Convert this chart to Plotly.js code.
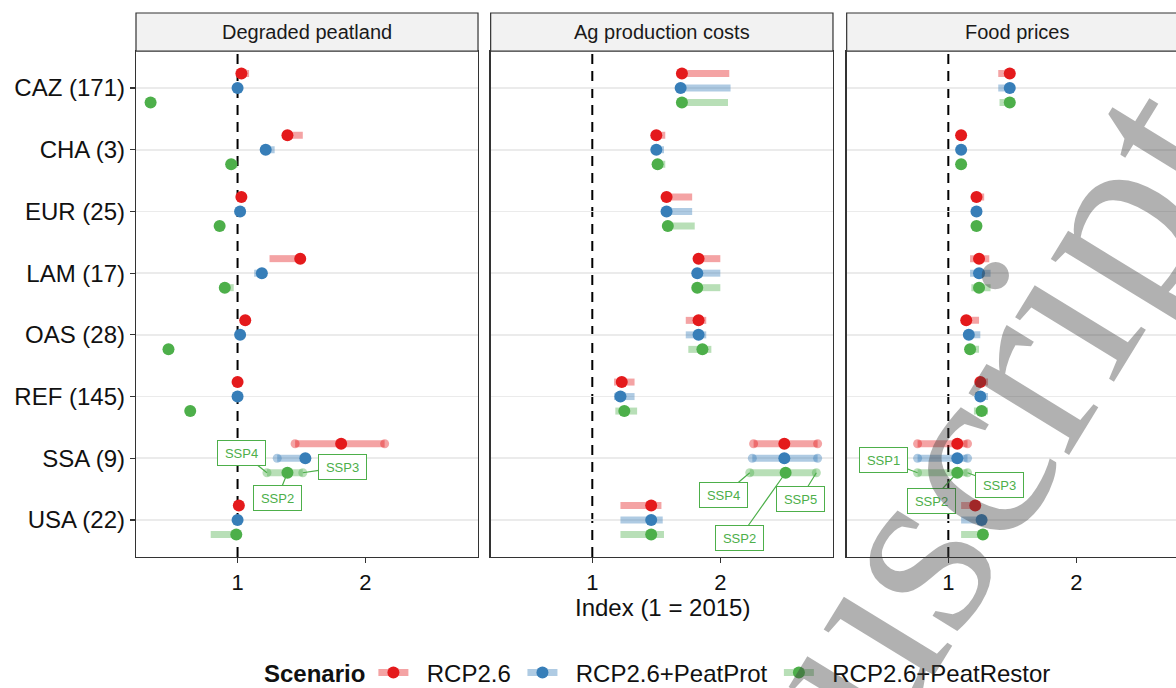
<!DOCTYPE html>
<html><head><meta charset="utf-8">
<script src="https://cdn.plot.ly/plotly-3.0.1.min.js"></script>
<style>html,body{margin:0;padding:0;overflow:hidden;background:#fff}#chart{width:1200px;height:688px}</style>
</head><body><div id="chart"></div>
<script>
// ---------------- data ----------------
const regions = ['CAZ (171)','CHA (3)','EUR (25)','LAM (17)','OAS (28)','REF (145)','SSA (9)','USA (22)'];
const panels = ['Degraded peatland','Ag production costs','Food prices'];
const scenarios = ['RCP2.6','RCP2.6+PeatProt','RCP2.6+PeatRestor'];
const xTicks = [1, 2];

// Degraded peatland (SSP2 value, min and max across SSPs)
const peatMidRCP    = [1.03, 1.39, 1.03, 1.49, 1.06, 1.00, 1.81, 1.01];
const peatLoRCP     = [1.02, 1.38, 1.02, 1.25, 1.05, 1.00, 1.45, 1.00];
const peatHiRCP     = [1.09, 1.51, 1.04, 1.49, 1.06, 1.00, 2.15, 1.01];
const peatMidProt   = [1.00, 1.22, 1.02, 1.19, 1.02, 1.00, 1.53, 1.00];
const peatLoProt    = [1.00, 1.21, 1.01, 1.13, 1.01, 1.00, 1.31, 1.00];
const peatHiProt    = [1.00, 1.29, 1.02, 1.19, 1.02, 1.00, 1.53, 1.00];
const peatMidRestor = [0.32, 0.95, 0.86, 0.90, 0.46, 0.63, 1.39, 0.99];
const peatLoRestor  = [0.32, 0.95, 0.86, 0.90, 0.46, 0.62, 1.23, 0.79];
const peatHiRestor  = [0.33, 1.00, 0.87, 0.97, 0.47, 0.63, 1.51, 0.99];

// Ag production costs
const agMidRCP    = [1.70, 1.50, 1.58, 1.83, 1.83, 1.23, 2.50, 1.46];
const agLoRCP     = [1.69, 1.49, 1.57, 1.82, 1.73, 1.17, 2.26, 1.22];
const agHiRCP     = [2.07, 1.57, 1.78, 2.00, 1.89, 1.33, 2.76, 1.54];
const agMidProt   = [1.69, 1.50, 1.58, 1.82, 1.83, 1.22, 2.50, 1.46];
const agLoProt    = [1.68, 1.49, 1.57, 1.81, 1.73, 1.17, 2.25, 1.22];
const agHiProt    = [2.08, 1.56, 1.78, 2.00, 1.89, 1.33, 2.76, 1.55];
const agMidRestor = [1.70, 1.51, 1.59, 1.82, 1.86, 1.25, 2.51, 1.46];
const agLoRestor  = [1.69, 1.50, 1.58, 1.81, 1.75, 1.18, 2.23, 1.22];
const agHiRestor  = [2.06, 1.57, 1.80, 2.00, 1.93, 1.35, 2.75, 1.56];

// Food prices
const foodMidRCP    = [1.48, 1.10, 1.22, 1.24, 1.14, 1.25, 1.07, 1.21];
const foodLoRCP     = [1.39, 1.10, 1.21, 1.17, 1.13, 1.24, 0.76, 1.10];
const foodHiRCP     = [1.48, 1.10, 1.28, 1.32, 1.24, 1.31, 1.15, 1.21];
const foodMidProt   = [1.48, 1.10, 1.22, 1.24, 1.16, 1.25, 1.07, 1.26];
const foodLoProt    = [1.39, 1.10, 1.21, 1.17, 1.15, 1.24, 0.76, 1.10];
const foodHiProt    = [1.48, 1.10, 1.26, 1.33, 1.25, 1.31, 1.15, 1.26];
const foodMidRestor = [1.48, 1.10, 1.22, 1.24, 1.17, 1.26, 1.07, 1.27];
const foodLoRestor  = [1.40, 1.10, 1.21, 1.18, 1.16, 1.20, 0.76, 1.10];
const foodHiRestor  = [1.48, 1.10, 1.26, 1.33, 1.24, 1.31, 1.15, 1.27];

// SSP labels shown for SSA (RCP2.6+PeatRestor): [at min, at SSP2 point, at max]
const sspLabelsPeat = ['SSP4', 'SSP2', 'SSP3'];
const sspLabelsAg   = ['SSP4', 'SSP2', 'SSP5'];
const sspLabelsFood = ['SSP1', 'SSP2', 'SSP3'];
const labelledRegion = 'SSA (9)';

// ---------------- styling ----------------
const colors = ['#E41A1C', '#377EB8', '#4DAF4A'];
const faded  = ['rgba(228,26,28,0.4)', 'rgba(55,126,184,0.4)', 'rgba(77,175,74,0.4)'];
const dodge = [0.235, 0, -0.235];
const FONT = 'Liberation Sans, Arial, Helvetica, sans-serif';
const domains = [[0, 0.3248], [0.3368, 0.6619], [0.6749, 1]];
const stripY = 0.9301;
const NB = '\u00a0';
// label box offsets (pixels) for [min, point, max] labels in each panel
const labelOffsets = [
  [[-25, -20], [-10, 25], [40, -6]],
  [[-26, 22], [-46, 65], [-16, 26]],
  [[-34, -13], [-26, 28], [32, 12]]
];

const panelData = [
  {mid: [peatMidRCP, peatMidProt, peatMidRestor], lo: [peatLoRCP, peatLoProt, peatLoRestor], hi: [peatHiRCP, peatHiProt, peatHiRestor], labels: sspLabelsPeat},
  {mid: [agMidRCP, agMidProt, agMidRestor], lo: [agLoRCP, agLoProt, agLoRestor], hi: [agHiRCP, agHiProt, agHiRestor], labels: sspLabelsAg},
  {mid: [foodMidRCP, foodMidProt, foodMidRestor], lo: [foodLoRCP, foodLoProt, foodLoRestor], hi: [foodHiRCP, foodHiProt, foodHiRestor], labels: sspLabelsFood}
];

const nReg = regions.length;
const yPos = regions.map((r, i) => nReg - i);
const traces = [];
const annotations = [];
const shapes = [];
const layout = {
  width: 1200, height: 688,
  margin: {l: 136, r: 11, t: 13, b: 131, autoexpand: false},
  paper_bgcolor: '#fff', plot_bgcolor: '#fff',
  font: {family: FONT, color: '#111', size: 24},
  showlegend: true,
  legend: {
    orientation: 'h', x: 0.5, xanchor: 'center', y: -0.2132, yanchor: 'middle',
    title: {text: '<b>Scenario</b>', side: 'left', font: {size: 24, family: FONT, color: '#111'}},
    font: {size: 24, family: FONT, color: '#111'}, itemwidth: 30, bgcolor: 'rgba(0,0,0,0)'
  }
};

panels.forEach((pname, p) => {
  const sfx = p === 0 ? '' : String(p + 1);
  const xa = 'x' + sfx, ya = 'y' + sfx;
  const d = panelData[p];
  // range bars
  scenarios.forEach((s, k) => {
    const xs = [], ys = [];
    regions.forEach((r, i) => { xs.push(d.lo[k][i], d.hi[k][i], null); ys.push(yPos[i] + dodge[k], yPos[i] + dodge[k], null); });
    traces.push({type: 'scatter', mode: 'lines', x: xs, y: ys, xaxis: xa, yaxis: ya, showlegend: false, hoverinfo: 'skip',
      line: {color: faded[k], width: 7}});
  });
  // faded SSP points for labelled region
  scenarios.forEach((s, k) => {
    const i = regions.indexOf(labelledRegion);
    traces.push({type: 'scatter', mode: 'markers', x: [d.lo[k][i], d.hi[k][i]], y: [yPos[i] + dodge[k], yPos[i] + dodge[k]],
      xaxis: xa, yaxis: ya, showlegend: false, hoverinfo: 'skip', marker: {color: faded[k], size: 9}});
  });
  // SSP2 points
  scenarios.forEach((s, k) => {
    traces.push({type: 'scatter', mode: 'markers', x: d.mid[k], y: yPos.map(v => v + dodge[k]), xaxis: xa, yaxis: ya,
      showlegend: false, marker: {color: colors[k], size: 12}});
  });
  // axes
  layout['xaxis' + sfx] = {
    domain: domains[p], anchor: ya, range: [0.206, 2.88], tickvals: xTicks, ticktext: xTicks.map(String),
    ticks: 'outside', ticklen: 5, tickwidth: 1.2, tickcolor: '#333', showline: true, mirror: true,
    linecolor: '#333', linewidth: 1.2, showgrid: false, zeroline: false,
    tickfont: {size: 22, family: FONT, color: '#111'}
  };
  layout['yaxis' + sfx] = {
    domain: [0, stripY], anchor: xa, range: [0.4, nReg + 0.6], tickvals: yPos, ticktext: regions,
    ticks: p === 0 ? 'outside' : '', ticklen: 5, tickwidth: 1.2, tickcolor: '#333', showticklabels: p === 0,
    showline: true, mirror: true, linecolor: '#333', linewidth: 1.2,
    showgrid: true, gridcolor: '#ebebeb', gridwidth: 1.6, zeroline: false,
    tickfont: {size: 24, family: FONT, color: '#111'}
  };
  // strip
  shapes.push({type: 'rect', xref: xa + ' domain', yref: 'paper', x0: 0, x1: 1, y0: stripY, y1: 1,
    fillcolor: '#f2f2f2', line: {color: '#333', width: 1.2}});
  annotations.push({xref: xa + ' domain', yref: 'paper', x: 0.5, y: (stripY + 1) / 2, text: pname, showarrow: false,
    xanchor: 'center', yanchor: 'middle', font: {size: 20, family: FONT, color: '#1a1a1a'}});
  // reference line at 1
  shapes.push({type: 'line', xref: xa, yref: 'paper', x0: 1, x1: 1, y0: 0, y1: stripY, layer: 'below',
    line: {color: '#000', width: 2, dash: '10px,7px'}});
  // SSP labels
  const i = regions.indexOf(labelledRegion);
  const k = 2;
  const xv = [d.lo[k][i], d.mid[k][i], d.hi[k][i]];
  d.labels.forEach((lab, j) => {
    annotations.push({xref: xa, yref: ya, x: xv[j], y: yPos[i] + dodge[k], text: lab, showarrow: true,
      arrowhead: 0, arrowwidth: 1.2, arrowcolor: colors[k], ax: labelOffsets[p][j][0], ay: labelOffsets[p][j][1],
      standoff: 0, font: {size: 13, family: FONT, color: colors[k]}, bgcolor: '#fff', bordercolor: colors[k],
      borderwidth: 1, borderpad: 3.5, width: 40, height: 17});
  });
});

// legend entries
scenarios.forEach((s, k) => {
  traces.push({type: 'scatter', mode: 'lines+markers', x: [null], y: [null], name: NB + NB + s + NB, xaxis: 'x', yaxis: 'y',
    line: {color: faded[k], width: 7}, marker: {color: colors[k], size: 12}, showlegend: true});
});

// x-axis title shared across panels
annotations.push({xref: 'paper', yref: 'paper', x: 0.5, y: -0.0935, text: 'Index (1 = 2015)', showarrow: false,
  xanchor: 'center', yanchor: 'middle', font: {size: 24, family: FONT, color: '#111'}});

// watermark
annotations.push({xref: 'paper', yref: 'paper', x: 0.7005, y: -0.095, text: 'Manuscript', showarrow: false,
  textangle: -58.5, xanchor: 'center', yanchor: 'middle',
  font: {size: 257, family: 'Liberation Serif, Times New Roman, serif', color: 'rgba(60,60,60,0.4)'}});

layout.shapes = shapes;
layout.annotations = annotations;

Plotly.newPlot('chart', traces, layout, {displayModeBar: false, staticPlot: true});
</script>
</body></html>
